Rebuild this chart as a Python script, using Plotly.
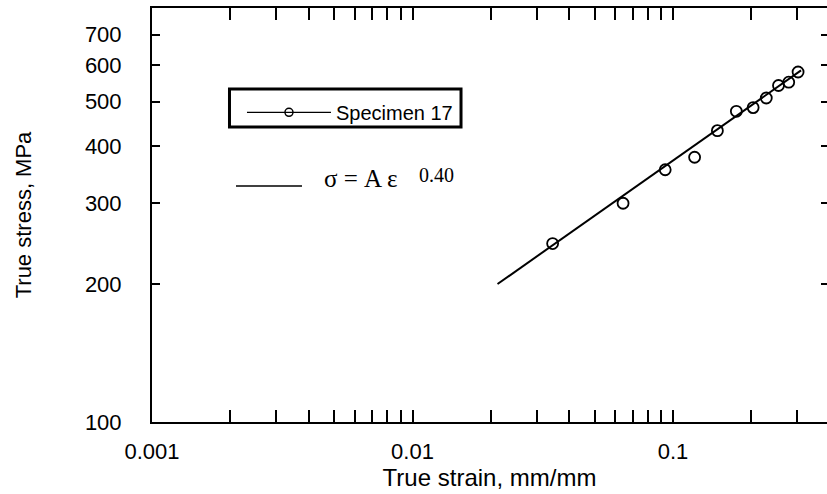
import plotly.graph_objects as go

# Specimen 17 true stress-strain measurements
strain = [0.0345, 0.0643, 0.0933, 0.121, 0.148, 0.175, 0.203, 0.228, 0.254, 0.278, 0.302]
stress = [245, 300, 355, 378, 432, 476, 485, 509, 542, 551, 580]

# Power-law hardening fit: sigma = A * eps^n
fit_A = 934.0
fit_n = 0.40
fit_strain = [0.0212, 0.31]
fit_stress = [fit_A * e ** fit_n for e in fit_strain]

y_ticks = [100, 200, 300, 400, 500, 600, 700]
x_ticks = [0.001, 0.01, 0.1]
x_tick_text = ["0.001", "0.01", "0.1"]
x_minor = [m * d for d in (0.001, 0.01, 0.1) for m in range(2, 10)]

FONT = "Liberation Sans, Arial, sans-serif"
SERIF = "Liberation Serif, Times New Roman, serif"

fig = go.Figure()

fig.add_trace(go.Scatter(
    x=fit_strain, y=fit_stress, mode="lines",
    line=dict(color="black", width=2), showlegend=False,
))
fig.add_trace(go.Scatter(
    x=strain, y=stress, mode="markers",
    marker=dict(symbol="circle-open", size=11, color="black", line=dict(width=1.8)),
    showlegend=False,
))
# legend entry: line with open circle
fig.add_trace(go.Scatter(
    x=[None], y=[None], mode="lines+markers", name="Specimen 17",
    line=dict(color="black", width=1.2),
    marker=dict(symbol="circle-open", size=8, color="black", line=dict(width=1.5)),
))
# mirrored y ticks on the right edge
fig.add_trace(go.Scatter(x=[None], y=[None], yaxis="y2", showlegend=False))

fig.update_layout(
    width=827, height=494,
    margin=dict(l=152, r=0, t=8, b=72),
    paper_bgcolor="white", plot_bgcolor="white",
    font=dict(family=FONT, color="black", size=22),
    xaxis=dict(
        type="log", range=[-3, -0.409],
        tickmode="array", tickvals=x_ticks, ticktext=x_tick_text,
        ticks="inside", ticklen=12, tickwidth=1.5, tickcolor="black",
        minor=dict(tickmode="array", tickvals=x_minor, ticks="inside",
                   ticklen=6, tickwidth=1.5, tickcolor="black", showgrid=False),
        showline=True, linecolor="black", linewidth=2, mirror="allticks",
        showgrid=False, zeroline=False,
        tickfont=dict(size=22), ticklabelstandoff=9,
        title=dict(text="True strain, mm/mm", font=dict(size=24), standoff=2),
    ),
    yaxis=dict(
        type="log", range=[2, 2.903],
        tickmode="array", tickvals=y_ticks, ticktext=[str(v) for v in y_ticks],
        ticks="inside", ticklen=8, tickwidth=1.5, tickcolor="black",
        showline=True, linecolor="black", linewidth=2,
        showgrid=False, zeroline=False,
        tickfont=dict(size=22), ticklabelstandoff=24,
        title=dict(text="True stress, MPa", font=dict(size=22), standoff=47),
    ),
    yaxis2=dict(
        type="log", range=[2, 2.903], overlaying="y", side="right",
        tickmode="array", tickvals=y_ticks, showticklabels=False,
        ticks="inside", ticklen=6, tickwidth=1.5, tickcolor="black",
        showline=False, showgrid=False, zeroline=False,
    ),
    legend=dict(
        x=0.1333, y=0.795, xanchor="left", yanchor="top",
        borderwidth=0, bgcolor="rgba(0,0,0,0)",
        font=dict(size=20, family=FONT), itemwidth=84,
    ),
    showlegend=True,
)

# frame round the legend entry
fig.add_shape(type="rect", xref="paper", yref="paper",
              x0=0.1148, x1=0.4578, y0=(422 - 127) / 414, y1=(422 - 89) / 414,
              line=dict(color="black", width=3), fillcolor="rgba(0,0,0,0)")

# equation key: plain line followed by sigma = A eps^0.40
fig.add_shape(type="line", xref="paper", yref="paper",
              x0=0.1244, x1=0.2222, y0=0.570, y1=0.570,
              line=dict(color="black", width=1.5))
fig.add_annotation(xref="paper", yref="paper", x=0.2519, y=0.589,
                   xanchor="left", yanchor="middle", showarrow=False,
                   text="σ = A ε", font=dict(family=SERIF, size=25, color="black"))
fig.add_annotation(xref="paper", yref="paper", x=0.3925, y=0.596,
                   xanchor="left", yanchor="middle", showarrow=False,
                   text=f"{fit_n:.2f}", font=dict(family=SERIF, size=20, color="black"))

fig.write_html("out.html")
